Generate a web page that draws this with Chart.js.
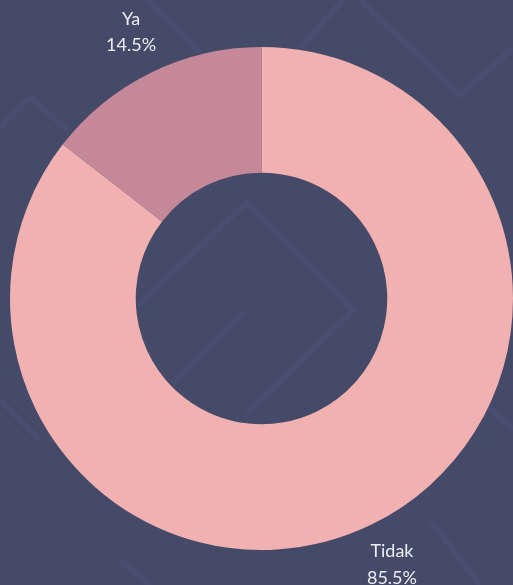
<!DOCTYPE html>
<html>
<head>
<meta charset="utf-8">
<script src="https://cdn.jsdelivr.net/npm/chart.js@4.4.0/dist/chart.umd.min.js"></script>
<style>
  html, body { margin: 0; padding: 0; overflow: hidden; }
  body {
    width: 513px;
    height: 585px;
    background-color: #444a68;
    background-image: url("data:image/svg+xml;utf8,<svg xmlns='http://www.w3.org/2000/svg' width='513' height='585'><g fill='none' stroke='%23484e6f' stroke-width='6'><polyline points='137,306 246,203 353,310 247,414'/><polyline points='245,312 173,384'/><polyline points='147,0 200,52'/><polyline points='300,48 343,0'/><polyline points='360,0 460,95 513,48'/><polyline points='0,127 30,97 67,130'/><polyline points='0,400 40,440'/><polyline points='470,390 513,430'/><polyline points='120,560 150,585'/><polyline points='430,520 480,585'/></g></svg>");
  }
  #wrap { position: relative; width: 513px; height: 585px; }
</style>
</head>
<body>
<div id="wrap"><canvas id="chart"></canvas></div>
<script>
// Chart data
const categories = ["Tidak", "Ya"];
const percentages = [85.5, 14.5];
const sliceColors = ["#f0b1b0", "#c58898"];

// Draw "label / value%" outside each slice
const outsideLabels = {
  id: "outsideLabels",
  afterDatasetsDraw(chart) {
    const ctx = chart.ctx;
    const meta = chart.getDatasetMeta(0);
    ctx.save();
    ctx.fillStyle = "#eceef4";
    ctx.font = "18px Lato, 'Open Sans', sans-serif";
    ctx.textAlign = "center";
    ctx.textBaseline = "middle";
    meta.data.forEach((arc, i) => {
      const p = arc.getProps(["x", "y", "startAngle", "endAngle", "outerRadius"], true);
      const mid = (p.startAngle + p.endAngle) / 2;
      const r = p.outerRadius + 45;
      const px = p.x + Math.cos(mid) * r;
      const py = p.y + Math.sin(mid) * r;
      ctx.fillText(categories[i], px, py - 13.5);
      ctx.fillText(percentages[i] + "%", px, py + 13);
    });
    ctx.restore();
  },
};

const ctx = document.getElementById("chart").getContext("2d");
window.donutChart = new Chart(ctx, {
  type: "doughnut",
  data: {
    labels: categories,
    datasets: [
      {
        data: percentages,
        backgroundColor: sliceColors,
        borderWidth: 0,
      },
    ],
  },
  options: {
    responsive: true,
    maintainAspectRatio: false,
    animation: false,
    cutout: "50%",
    layout: {
      padding: { left: 10, right: 0, top: 47, bottom: 35 },
    },
    plugins: {
      legend: { display: false },
      tooltip: { enabled: false },
    },
  },
  plugins: [outsideLabels],
});
</script>
</body>
</html>
